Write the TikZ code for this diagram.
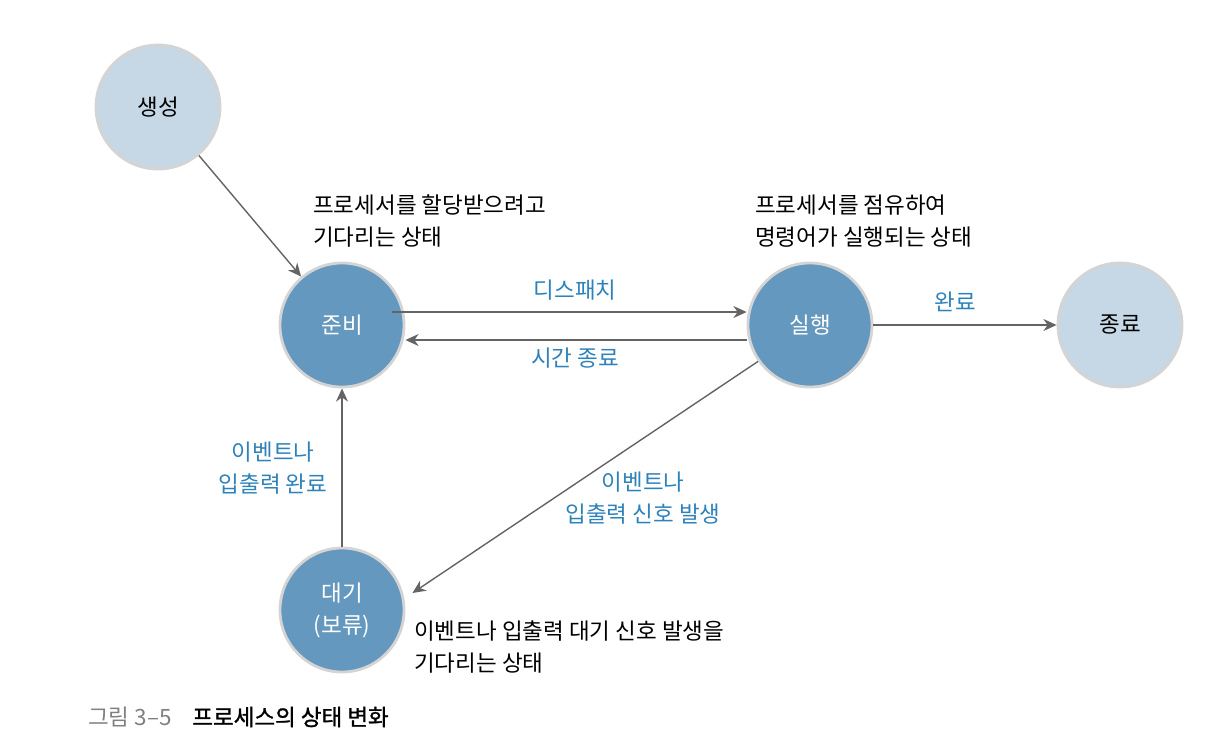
\documentclass[tikz,border=0pt]{standalone}
\usepackage{fontspec}
\setmainfont{Noto Sans CJK KR}
\usetikzlibrary{arrows.meta,positioning}
\definecolor{dk}{RGB}{100,152,190}
\definecolor{lt}{RGB}{198,216,229}
\definecolor{rim}{RGB}{212,212,212}
\definecolor{lbl}{RGB}{45,130,185}
\definecolor{ln}{RGB}{100,100,100}

\begin{document}
\begin{tikzpicture}[x=0.025cm,y=-0.025cm,every node/.style={font=\fontsize{16}{22.8}\selectfont},
 st/.style={draw=rim,line width=2pt,circle,minimum size=3.1cm,inner sep=0pt,align=center},
 act/.style={st,fill=dk,text=white},
 idle/.style={st,fill=lt},
 arr/.style={-{Stealth[length=0.33cm,width=0.3cm]},draw=ln,line width=1pt},
 lb/.style={text=lbl,align=center},
 nt/.style={align=left,anchor=west,inner sep=0pt}]
\useasboundingbox (0,0) rectangle (1220,744);
% states
\node[idle] (new) at (158,107) {생성};
\node[act] (ready) at (342,325) {준비};
\node[act] (run) at (810,325) {실행};
\node[idle] (done) at (1120,325) {종료};
\node[act] (wait) at (342,610) {대기\\(보류)};
% transitions
\draw[arr] (new) -- (ready);
\draw[arr] ([xshift=-0.33cm,yshift=0.325cm]ready.east) -- ([yshift=0.325cm]run.west);
\draw[arr] ([yshift=-0.375cm]run.west) -- ([yshift=-0.375cm]ready.east);
\draw[arr] (run) -- (done);
\draw[arr] (run.215) -- ([xshift=0.2cm,yshift=0.15cm]wait.10);
\draw[arr] (wait) -- (ready);
% labels
\node[lb] (dsp) at (575,290) {디스패치};
\node[lb] (tmo) at (575,358) {시간 종료};
\node[lb] (cpl) at (955,302) {완료};
\node[lb] (ios) at (643,498) {이벤트나\\입출력 신호 발생};
\node[lb] (iod) at (273,468) {이벤트나\\입출력 완료};
\node[nt] (rdy) at (313,221) {프로세서를 할당받으려고\\기다리는 상태};
\node[nt] (rnn) at (755,221) {프로세서를 점유하여\\명령어가 실행되는 상태};
\node[nt] (wtn) at (414,647) {이벤트나 입출력 대기 신호 발생을\\기다리는 상태};
% caption
\node[nt,text=gray] (cap) at (88,717) {그림 3–5};
\node[nt,right=0.5cm of cap,font=\fontsize{16}{22.8}\selectfont\addfontfeature{FakeBold=1.2}] (ttl) {프로세스의 상태 변화};
\end{tikzpicture}
\end{document}
